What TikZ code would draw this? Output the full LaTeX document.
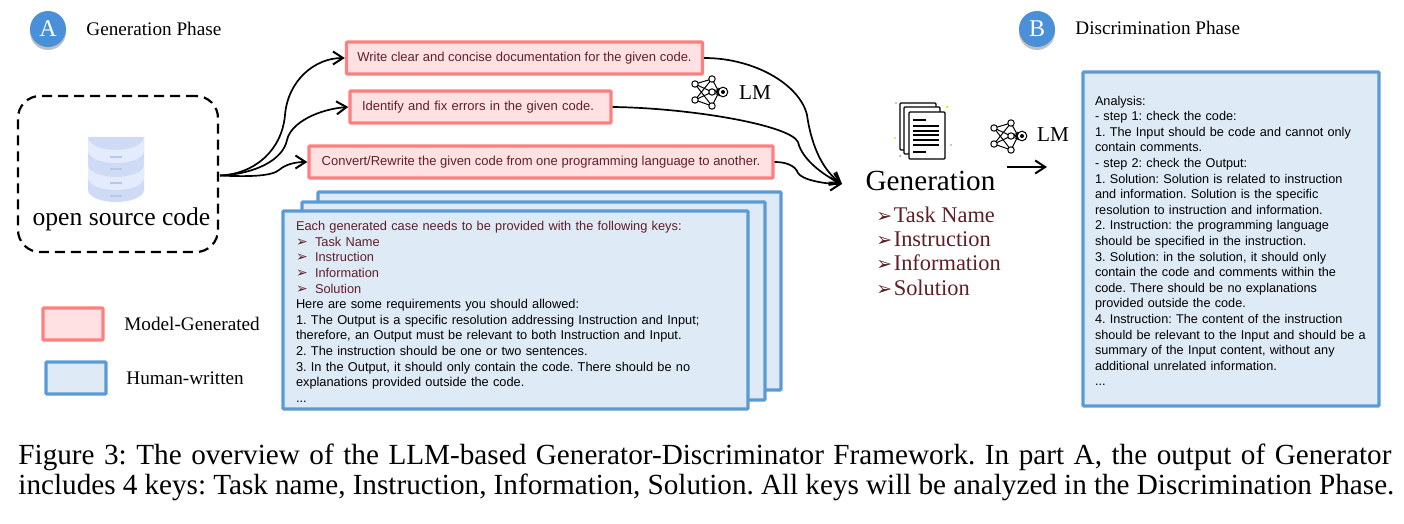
\documentclass[tikz,border=0pt]{standalone}
\usepackage{fontspec}
\setmainfont{Liberation Serif}
\setsansfont{Liberation Sans}
\newfontfamily\dingfont{DejaVu Sans}
\usetikzlibrary{arrows.meta,shadows,positioning}
\definecolor{modelred}{HTML}{FF7F7F}
\definecolor{modelfill}{HTML}{FFE1E3}
\definecolor{humanblue}{HTML}{5B9BD5}
\definecolor{humanfill}{HTML}{DEEAF6}
\definecolor{keyred}{HTML}{5E1F27}
\definecolor{badgeblue}{HTML}{4A90D9}
\definecolor{dbdark}{HTML}{CFDBF5}
\definecolor{dblight}{HTML}{E3EBFC}
\definecolor{dbbar}{HTML}{B9C8EA}
\tikzset{
	modelbox/.style={draw=modelred, fill=modelfill, line width=1.7pt, rounded corners=0.5pt, inner sep=0pt, text=keyred, font=\sffamily\fontsize{6.5}{8}\selectfont},
	humanbox/.style={draw=humanblue, fill=humanfill, line width=1.7pt, rounded corners=0.5pt, inner sep=0pt},
	badge/.style={circle, fill=badgeblue, minimum size=18pt, inner sep=0pt, text=white, font=\fontsize{12}{14}\selectfont, drop shadow={shadow xshift=0pt, shadow yshift=-1.5pt, opacity=0.5}},
	phaselabel/.style={anchor=west, inner sep=0pt, font=\fontsize{9.6}{11}\selectfont},
	flow/.style={-{Straight Barb[length=5pt,width=6.5pt,line width=1pt]}, line width=0.85pt},
	boxtext/.style={align=left, font=\sffamily\fontsize{6.4}{7.8}\selectfont}
}
\newcommand{\keymark}{\makebox[9.5pt][l]{\dingfont\fontsize{7}{7}\selectfont ➢}}
\newcommand{\bigmark}{\makebox[8.7pt][l]{\dingfont\fontsize{9.5}{12}\selectfont ➢}}
\newcommand{\lmicon}{\foreach \a/\b in {-17/-8,-17/8}{
		\foreach \c/\d in {0/-13,0/0,0/14}{\draw[line width=0.5pt] (\a,\b) -- (\c,\d);}}
	\foreach \c/\d in {0/-13,0/0,0/14}{\draw[line width=0.5pt,-{Stealth[length=2pt,width=2pt]}] (\c,\d) -- (7,0);}
	\foreach \a/\b in {-17/-8,-17/8,0/-13,0/0,0/14}{\draw[line width=0.5pt,fill=white] (\a,\b) circle (3.2);}
	\draw[line width=0.5pt,fill=white] (11,0) circle (4.8);
	\fill (11,0) circle (2);}
\newcommand{\dbicon}{\fill[dbdark] (-28,-25) -- (-28,28) arc[start angle=180,end angle=0,x radius=28,y radius=12] -- (28,-25) -- cycle;
	\fill[dblight] (-28,-11) arc[start angle=180,end angle=0,x radius=28,y radius=12] -- (28,-25) arc[start angle=0,end angle=180,x radius=28,y radius=13] -- cycle;
	\fill[dblight] (-28,16) arc[start angle=180,end angle=0,x radius=28,y radius=12] -- (28,3) arc[start angle=0,end angle=180,x radius=28,y radius=12] -- cycle;
	\foreach \y in {-5,7,21,34}{\fill[dbbar] (-6,\y-1.2) rectangle (6,\y+1.2);}}
\newcommand{\docicon}{\foreach \x/\y in {-20/-27,-16/-23,-11/-18}{
		\draw[line width=0.7pt,fill=white,rounded corners=0.5pt] (\x,\y) rectangle +(36,47);}
	\foreach \y in {-4,1,5,10,15}{\draw[line width=0.6pt] (-7,\y) -- (19,\y);}
	\draw[line width=0.6pt] (-7,-10) -- (6,-10);
	\draw[line width=0.6pt] (-7,22) -- (6,22);
	\fill[orange!70] (-24,-27) circle (1.1);
	\fill[yellow!85!orange] (27,-23) circle (1.5);
	\fill[yellow!85!orange] (-25,8) circle (1.1);
	\fill[humanblue] (31,15) circle (0.9);
	\fill[humanblue] (-20,26) circle (1);}

\begin{document}
\frenchspacing
\begin{tikzpicture}[x=0.5pt,y=-0.5pt]
	\useasboundingbox (0,0) rectangle (1404,524);

	\node[badge] (badgeA) at (48,29) {A};
	\node[phaselabel] (phaseA) at (86,29) {Generation Phase};
	\node[badge] (badgeB) at (1037,29) {B};
	\node[phaselabel] (phaseB) at (1075,28) {Discrimination Phase};

	\node[draw, dashed, dash pattern=on 5pt off 3pt, line width=1.1pt, rounded corners=11pt, minimum width=100pt, minimum height=78pt] (srcbox) at (118,174) {};
	\begin{scope}[xshift=58pt, yshift=-81pt]
		\dbicon
	\end{scope}
	\node[font=\fontsize{12.8}{15}\selectfont, inner sep=0pt] (srclabel) at (121.5,219) {open source code};
	\coordinate (srcout) at (220,175.5);

	\node[modelbox, minimum width=178pt, minimum height=16pt] (writebox) at (524.5,58) {Write clear and concise documentation for the given code.};
	\node[modelbox, minimum width=130.5pt, minimum height=16pt, text width=130.5pt, align=left] (fixbox) at (480.5,107) {\hspace{6pt}Identify and fix errors in the given code.};
	\node[modelbox, minimum width=232pt, minimum height=16pt] (convbox) at (541,162) {Convert/Rewrite the given code from one programming language to another.};

	\node[humanbox, minimum width=231.5pt, minimum height=99pt] (backbox) at (549.5,291) {};
	\node[humanbox, minimum width=231.5pt, minimum height=99pt] (midbox) at (533.5,301) {};
	\node[humanbox, boxtext, minimum width=232.5pt, minimum height=99pt, text width=219.5pt, inner xsep=6.5pt] (keysbox) at (515.5,310) {\color{keyred}\rule{0pt}{6.5pt}Each generated case needs to be provided with the following keys:\\
		\color{keyred}\keymark Task Name\\
		\color{keyred}\keymark Instruction\\
		\color{keyred}\keymark Information\\
		\color{keyred}\keymark Solution\\
		\color{black}Here are some requirements you should allowed:\\
		\color{black}1. The Output is a specific resolution addressing Instruction and Input;\\
		\color{black}therefore, an Output must be relevant to both Instruction and Input.\\
		\color{black}2. The instruction should be one or two sentences.\\
		\color{black}3. In the Output, it should only contain the code. There should be no\\
		\color{black}explanations provided outside the code.\\
		\color{black}...};

	\draw[flow] (srcout) .. controls (255,174) and (282,150) .. (285,115) .. controls (288,80) and (315,58) .. (writebox.west);
	\draw[flow] (srcout) .. controls (255,174) and (283,160) .. (287,140) .. controls (291,122) and (320,109) .. (fixbox.west);
	\draw[flow] (srcout) .. controls (250,177) and (272,176) .. (279,170) .. controls (286,164) and (296,162) .. (convbox.west);

	\coordinate (genin) at (842,184);
	\draw[flow] (writebox.east) .. controls (755,58) and (800,85) .. (807,115) .. controls (812,150) and (825,172) .. (genin);
	\draw[flow] (fixbox.east) .. controls (690,108) and (790,125) .. (798,142) .. controls (802,160) and (825,176) .. (genin);
	\draw[flow] (convbox.east) .. controls (785,162) and (795,165) .. (798,173) .. controls (802,180) and (825,184) .. (genin);

	\begin{scope}[xshift=356pt, yshift=-46pt]
		\lmicon
	\end{scope}
	\node[inner sep=0pt, font=\fontsize{10.6}{12}\selectfont] (lmone) at (755,93) {LM};

	\begin{scope}[xshift=460pt, yshift=-65pt]
		\docicon
	\end{scope}
	\node[inner sep=0pt, font=\fontsize{14.6}{16}\selectfont] (genlabel) at (930.5,181) {Generation};
	\node[anchor=north west, inner sep=0pt, align=left, text=keyred, font=\fontsize{11.2}{12.1}\selectfont] (genkeys) at (876,206.5) {\bigmark Task Name\\ \bigmark Instruction\\ \bigmark Information\\ \bigmark Solution};

	\begin{scope}[xshift=505.5pt, yshift=-68pt]
		\lmicon
	\end{scope}
	\node[inner sep=0pt, font=\fontsize{10.6}{12}\selectfont] (lmtwo) at (1053,135) {LM};
	\coordinate (lmstart) at (1007,167);
	\coordinate (lmend) at (1047,167);
	\draw[flow, line width=0.7pt] (lmstart) -- (lmend);

	\node[humanbox, boxtext, minimum width=148pt, minimum height=167pt, text width=136pt, inner xsep=6pt, font=\sffamily\fontsize{6.34}{7.8}\selectfont] (analysisbox) at (1231,239) {\rule{0pt}{6.6pt}Analysis:\\
		- step 1: check the code:\\
		1. The Input should be code and cannot only\\
		contain comments.\\
		- step 2: check the Output:\\
		1. Solution: Solution is related to instruction\\
		and information. Solution is the specific\\
		resolution to instruction and information.\\
		2. Instruction: the programming language\\
		should be specified in the instruction.\\
		3. Solution: in the solution, it should only\\
		contain the code and comments within the\\
		code. There should be no explanations\\
		provided outside the code.\\
		4. Instruction: The content of the instruction\\
		should be relevant to the Input and should be a\\
		summary of the Input content, without any\\
		additional unrelated information.\\
		...};

	\node[modelbox, minimum width=30pt, minimum height=16pt] (legendred) at (73,324) {};
	\node[humanbox, minimum width=30pt, minimum height=16pt] (legendblue) at (76,378) {};
	\node[phaselabel] (legendmodel) at (124,324) {Model-Generated};
	\node[phaselabel] (legendhuman) at (126,378) {Human-written};

	\node[anchor=north west, inner sep=0pt, align=left, font=\fontsize{14.6}{15}\selectfont] (caption) at (18,444) {\makebox[686.5pt][s]{Figure 3: The overview of the LLM-based Generator-Discriminator Framework. In part A, the output of Generator}\\ \makebox[688pt][s]{includes 4 keys: Task name, Instruction, Information, Solution. All keys will be analyzed in the Discrimination Phase.}};
\end{tikzpicture}
\end{document}
